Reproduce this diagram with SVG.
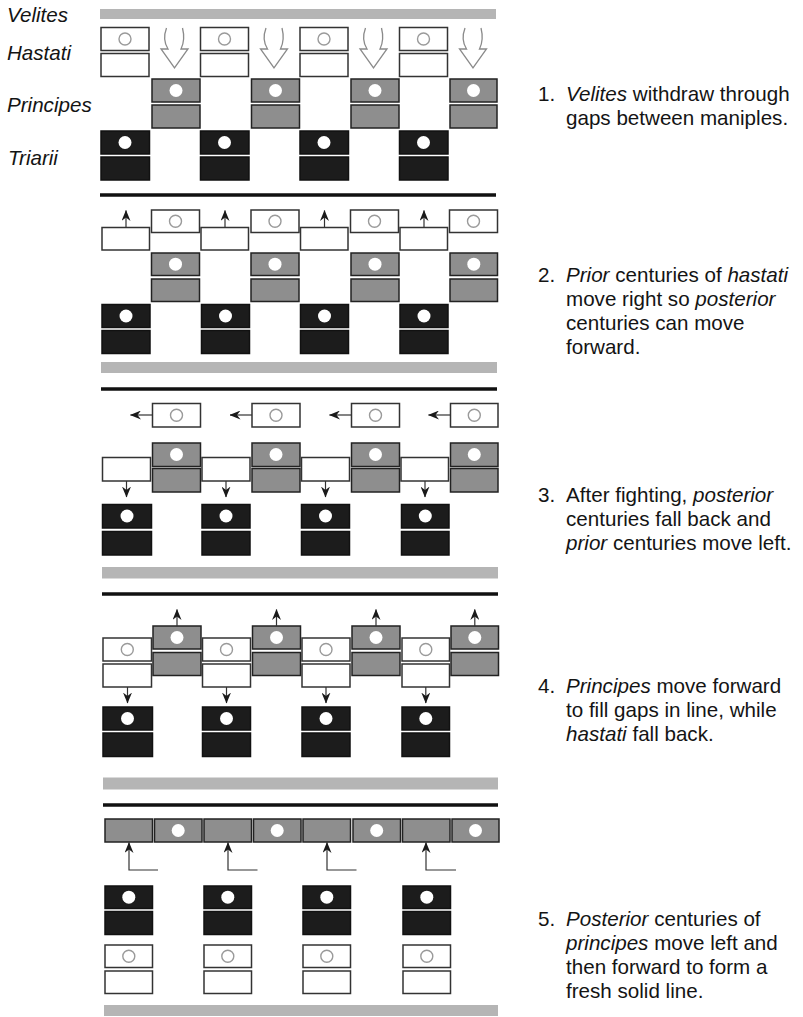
<svg xmlns="http://www.w3.org/2000/svg" width="803" height="1017" viewBox="0 0 803 1017">
<style>
.h{fill:#fff;stroke:#333;stroke-width:1.5}
.p{fill:#8e8e8e;stroke:#222;stroke-width:1.5}
.t{fill:#1c1c1c;stroke:#111;stroke-width:1.5}
.hc{fill:none;stroke:#9a9a9a;stroke-width:1.4}
.wc{fill:#fff;stroke:none}
.bar{fill:#b5b5b5}
.blk{stroke:#111;stroke-width:3.5}
.mv{stroke:#333;stroke-width:1.2;fill:none;marker-end:url(#ah)}
.big{fill:#fff;stroke:#8a8a8a;stroke-width:1.3}
text{font-family:"Liberation Sans",Arial,Helvetica,sans-serif;font-size:20.6px;fill:#141414}
.lab{font-style:italic}
.it{font-style:italic}
</style>
<defs>
<marker id="ah" markerUnits="userSpaceOnUse" markerWidth="11" markerHeight="9" refX="10.5" refY="4.5" orient="auto" viewBox="0 0 11 9">
<path d="M0,0 L11,4.5 L0,9 L3.5,4.5 Z" fill="#1a1a1a"/>
</marker>
<path id="bigArrow" d="M-8,0 C-11,8 -11,14 -6.5,21 L-13.5,21 L0,40 L13.5,21 L6.5,21 C10,14 10,8 8,0"/>
</defs>

<g id="labels">
<text class="lab" x="7" y="22">Velites</text>
<text class="lab" x="7" y="60">Hastati</text>
<text class="lab" x="7" y="112">Principes</text>
<text class="lab" x="8" y="165">Triarii</text>
</g>

<!-- Panel 1 -->
<g id="panel1">
<rect id="velites1" class="bar" x="100" y="9" width="396" height="10"/>
<g id="p1-hastati">
<g id="p1-h1"><rect class="h" x="101" y="27.5" width="48" height="23"/><circle class="hc" cx="125" cy="39" r="6"/><rect class="h" x="101" y="53.5" width="48" height="23"/></g>
<g id="p1-h2"><rect class="h" x="200.5" y="27.5" width="48" height="23"/><circle class="hc" cx="224.5" cy="39" r="6"/><rect class="h" x="200.5" y="53.5" width="48" height="23"/></g>
<g id="p1-h3"><rect class="h" x="300" y="27.5" width="48" height="23"/><circle class="hc" cx="324" cy="39" r="6"/><rect class="h" x="300" y="53.5" width="48" height="23"/></g>
<g id="p1-h4"><rect class="h" x="399.5" y="27.5" width="48" height="23"/><circle class="hc" cx="423.5" cy="39" r="6"/><rect class="h" x="399.5" y="53.5" width="48" height="23"/></g>
</g>
<g id="p1-principes">
<g id="p1-p1"><rect class="p" x="152" y="79" width="48" height="23"/><circle class="wc" cx="176" cy="90.5" r="6.5"/><rect class="p" x="152" y="105" width="48" height="23"/></g>
<g id="p1-p2"><rect class="p" x="251.5" y="79" width="48" height="23"/><circle class="wc" cx="275.5" cy="90.5" r="6.5"/><rect class="p" x="251.5" y="105" width="48" height="23"/></g>
<g id="p1-p3"><rect class="p" x="351" y="79" width="48" height="23"/><circle class="wc" cx="375" cy="90.5" r="6.5"/><rect class="p" x="351" y="105" width="48" height="23"/></g>
<g id="p1-p4"><rect class="p" x="450" y="79" width="47" height="23"/><circle class="wc" cx="473.5" cy="90.5" r="6.5"/><rect class="p" x="450" y="105" width="47" height="23"/></g>
</g>
<g id="p1-triarii">
<g id="p1-t1"><rect class="t" x="101" y="131" width="48.5" height="23"/><circle class="wc" cx="125" cy="142.5" r="6.5"/><rect class="t" x="101" y="157" width="48.5" height="23"/></g>
<g id="p1-t2"><rect class="t" x="200.5" y="131" width="48.5" height="23"/><circle class="wc" cx="224.5" cy="142.5" r="6.5"/><rect class="t" x="200.5" y="157" width="48.5" height="23"/></g>
<g id="p1-t3"><rect class="t" x="300" y="131" width="48.5" height="23"/><circle class="wc" cx="324" cy="142.5" r="6.5"/><rect class="t" x="300" y="157" width="48.5" height="23"/></g>
<g id="p1-t4"><rect class="t" x="399.5" y="131" width="48.5" height="23"/><circle class="wc" cx="423.5" cy="142.5" r="6.5"/><rect class="t" x="399.5" y="157" width="48.5" height="23"/></g>
</g>
<g id="p1-arrows">
<use href="#bigArrow" class="big" transform="translate(174.5,28)"/>
<use href="#bigArrow" class="big" transform="translate(274,28)"/>
<use href="#bigArrow" class="big" transform="translate(373.5,28)"/>
<use href="#bigArrow" class="big" transform="translate(473,28)"/>
</g>
<line class="blk" x1="100" y1="195" x2="496" y2="195"/>
<text x="538" y="101">1.</text>
<text x="566" y="101"><tspan class="it">Velites</tspan> withdraw through</text>
<text x="566" y="125">gaps between maniples.</text>
</g>

<!-- Panel 2 -->
<g id="panel2">
<g id="p2-prior">
<g id="p2-pr1"><rect class="h" x="151.5" y="210" width="48" height="22.5"/><circle class="hc" cx="175.5" cy="221.2" r="6"/></g>
<g id="p2-pr2"><rect class="h" x="251" y="210" width="48" height="22.5"/><circle class="hc" cx="275" cy="221.2" r="6"/></g>
<g id="p2-pr3"><rect class="h" x="350.5" y="210" width="48" height="22.5"/><circle class="hc" cx="374.5" cy="221.2" r="6"/></g>
<g id="p2-pr4"><rect class="h" x="449.5" y="210" width="48" height="22.5"/><circle class="hc" cx="473.5" cy="221.2" r="6"/></g>
</g>
<g id="p2-posterior">
<g id="p2-po1"><rect class="h" x="102" y="227.5" width="47.5" height="22.5"/></g>
<g id="p2-po2"><rect class="h" x="201" y="227.5" width="47.5" height="22.5"/></g>
<g id="p2-po3"><rect class="h" x="300.5" y="227.5" width="47.5" height="22.5"/></g>
<g id="p2-po4"><rect class="h" x="400" y="227.5" width="47.5" height="22.5"/></g>
</g>
<g id="p2-principes">
<g id="p2-p1"><rect class="p" x="151.5" y="253" width="48" height="22.5"/><circle class="wc" cx="175.5" cy="264.2" r="6.5"/><rect class="p" x="151.5" y="279" width="48" height="22.5"/></g>
<g id="p2-p2"><rect class="p" x="251" y="253" width="48" height="22.5"/><circle class="wc" cx="275" cy="264.2" r="6.5"/><rect class="p" x="251" y="279" width="48" height="22.5"/></g>
<g id="p2-p3"><rect class="p" x="351" y="253" width="48" height="22.5"/><circle class="wc" cx="375" cy="264.2" r="6.5"/><rect class="p" x="351" y="279" width="48" height="22.5"/></g>
<g id="p2-p4"><rect class="p" x="450" y="253" width="47.5" height="22.5"/><circle class="wc" cx="473.8" cy="264.2" r="6.5"/><rect class="p" x="450" y="279" width="47.5" height="22.5"/></g>
</g>
<g id="p2-triarii">
<g id="p2-t1"><rect class="t" x="102" y="304.5" width="48" height="23"/><circle class="wc" cx="126" cy="316" r="6.5"/><rect class="t" x="102" y="330.5" width="48" height="23"/></g>
<g id="p2-t2"><rect class="t" x="201.5" y="304.5" width="48" height="23"/><circle class="wc" cx="225.5" cy="316" r="6.5"/><rect class="t" x="201.5" y="330.5" width="48" height="23"/></g>
<g id="p2-t3"><rect class="t" x="300.5" y="304.5" width="48" height="23"/><circle class="wc" cx="324.5" cy="316" r="6.5"/><rect class="t" x="300.5" y="330.5" width="48" height="23"/></g>
<g id="p2-t4"><rect class="t" x="400" y="304.5" width="48" height="23"/><circle class="wc" cx="424" cy="316" r="6.5"/><rect class="t" x="400" y="330.5" width="48" height="23"/></g>
</g>
<rect class="bar" x="101" y="362" width="396" height="11"/>
<line class="blk" x1="101" y1="389" x2="497" y2="389"/>
<text x="538" y="282">2.</text>
<text x="566" y="282"><tspan class="it">Prior</tspan> centuries of <tspan class="it">hastati</tspan></text>
<text x="566" y="306">move right so <tspan class="it">posterior</tspan></text>
<text x="566" y="330">centuries can move</text>
<text x="566" y="354">forward.</text>
</g>

<!-- Panel 3 -->
<g id="panel3">
<g id="p3-prior">
<g id="p3-pr1"><rect class="h" x="152.5" y="403.5" width="48" height="23.5"/><circle class="hc" cx="176.5" cy="415.2" r="6"/></g>
<g id="p3-pr2"><rect class="h" x="252" y="403.5" width="48" height="23.5"/><circle class="hc" cx="276" cy="415.2" r="6"/></g>
<g id="p3-pr3"><rect class="h" x="351.5" y="403.5" width="48" height="23.5"/><circle class="hc" cx="375.5" cy="415.2" r="6"/></g>
<g id="p3-pr4"><rect class="h" x="450.5" y="403.5" width="47.5" height="23.5"/><circle class="hc" cx="474.3" cy="415.2" r="6"/></g>
</g>
<g id="p3-principes">
<g id="p3-p1"><rect class="p" x="152.5" y="443" width="48" height="23.5"/><circle class="wc" cx="176.5" cy="454.5" r="6.5"/><rect class="p" x="152.5" y="468.5" width="48" height="23.5"/></g>
<g id="p3-p2"><rect class="p" x="252" y="443" width="48" height="23.5"/><circle class="wc" cx="276" cy="454.5" r="6.5"/><rect class="p" x="252" y="468.5" width="48" height="23.5"/></g>
<g id="p3-p3"><rect class="p" x="351.5" y="443" width="48" height="23.5"/><circle class="wc" cx="375.5" cy="454.5" r="6.5"/><rect class="p" x="351.5" y="468.5" width="48" height="23.5"/></g>
<g id="p3-p4"><rect class="p" x="450.5" y="443" width="47.5" height="23.5"/><circle class="wc" cx="474.3" cy="454.5" r="6.5"/><rect class="p" x="450.5" y="468.5" width="47.5" height="23.5"/></g>
</g>
<g id="p3-posterior">
<g id="p3-po1"><rect class="h" x="102.5" y="457.5" width="48" height="23.5"/></g>
<g id="p3-po2"><rect class="h" x="202" y="457.5" width="48" height="23.5"/></g>
<g id="p3-po3"><rect class="h" x="301.5" y="457.5" width="48" height="23.5"/></g>
<g id="p3-po4"><rect class="h" x="401" y="457.5" width="47.5" height="23.5"/></g>
</g>
<g id="p3-triarii">
<g id="p3-t1"><rect class="t" x="102.5" y="504.5" width="49" height="23.5"/><circle class="wc" cx="127" cy="516" r="6.5"/><rect class="t" x="102.5" y="531.5" width="49" height="23.5"/></g>
<g id="p3-t2"><rect class="t" x="202" y="504.5" width="48" height="23.5"/><circle class="wc" cx="226" cy="516" r="6.5"/><rect class="t" x="202" y="531.5" width="48" height="23.5"/></g>
<g id="p3-t3"><rect class="t" x="301.5" y="504.5" width="48" height="23.5"/><circle class="wc" cx="325.5" cy="516" r="6.5"/><rect class="t" x="301.5" y="531.5" width="48" height="23.5"/></g>
<g id="p3-t4"><rect class="t" x="401.5" y="504.5" width="47.5" height="23.5"/><circle class="wc" cx="425.3" cy="516" r="6.5"/><rect class="t" x="401.5" y="531.5" width="47.5" height="23.5"/></g>
</g>
<rect class="bar" x="102" y="567" width="396" height="11.5"/>
<line class="blk" x1="102" y1="594" x2="498" y2="594"/>
<text x="538" y="502">3.</text>
<text x="566" y="502">After fighting, <tspan class="it">posterior</tspan></text>
<text x="566" y="526">centuries fall back and</text>
<text x="566" y="550"><tspan class="it">prior</tspan> centuries move left.</text>
</g>

<!-- Panel 4 -->
<g id="panel4">
<g id="p4-principes">
<g id="p4-p1"><rect class="p" x="153" y="626" width="48" height="23"/><circle class="wc" cx="177" cy="637.5" r="6.5"/><rect class="p" x="153" y="652.5" width="48" height="23"/></g>
<g id="p4-p2"><rect class="p" x="252.5" y="626" width="48" height="23"/><circle class="wc" cx="276.5" cy="637.5" r="6.5"/><rect class="p" x="252.5" y="652.5" width="48" height="23"/></g>
<g id="p4-p3"><rect class="p" x="352" y="626" width="48" height="23"/><circle class="wc" cx="376" cy="637.5" r="6.5"/><rect class="p" x="352" y="652.5" width="48" height="23"/></g>
<g id="p4-p4"><rect class="p" x="451" y="626" width="47.5" height="23"/><circle class="wc" cx="474.8" cy="637.5" r="6.5"/><rect class="p" x="451" y="652.5" width="47.5" height="23"/></g>
</g>
<g id="p4-hastati">
<g id="p4-h1"><rect class="h" x="103" y="638" width="48.5" height="23"/><circle class="hc" cx="127.3" cy="649.5" r="6"/><rect class="h" x="103" y="664" width="48.5" height="23"/></g>
<g id="p4-h2"><rect class="h" x="202.5" y="638" width="48" height="23"/><circle class="hc" cx="226.5" cy="649.5" r="6"/><rect class="h" x="202.5" y="664" width="48" height="23"/></g>
<g id="p4-h3"><rect class="h" x="302" y="638" width="48" height="23"/><circle class="hc" cx="326" cy="649.5" r="6"/><rect class="h" x="302" y="664" width="48" height="23"/></g>
<g id="p4-h4"><rect class="h" x="402" y="638" width="47.5" height="23"/><circle class="hc" cx="425.8" cy="649.5" r="6"/><rect class="h" x="402" y="664" width="47.5" height="23"/></g>
</g>
<g id="p4-triarii">
<g id="p4-t1"><rect class="t" x="103" y="707" width="49.5" height="23"/><circle class="wc" cx="127.5" cy="718.5" r="6.5"/><rect class="t" x="103" y="733" width="49.5" height="23.5"/></g>
<g id="p4-t2"><rect class="t" x="202.5" y="707" width="48" height="23"/><circle class="wc" cx="226.5" cy="718.5" r="6.5"/><rect class="t" x="202.5" y="733" width="48" height="23.5"/></g>
<g id="p4-t3"><rect class="t" x="302" y="707" width="48" height="23"/><circle class="wc" cx="326" cy="718.5" r="6.5"/><rect class="t" x="302" y="733" width="48" height="23.5"/></g>
<g id="p4-t4"><rect class="t" x="402" y="707" width="47.5" height="23"/><circle class="wc" cx="425.8" cy="718.5" r="6.5"/><rect class="t" x="402" y="733" width="47.5" height="23.5"/></g>
</g>
<rect class="bar" x="103" y="777.5" width="395" height="12"/>
<line class="blk" x1="103" y1="805" x2="498" y2="805"/>
<text x="538" y="693">4.</text>
<text x="566" y="693"><tspan class="it">Principes</tspan> move forward</text>
<text x="566" y="717">to fill gaps in line, while</text>
<text x="566" y="741"><tspan class="it">hastati</tspan> fall back.</text>
</g>

<!-- Panel 5 -->
<g id="panel5">
<g id="p5-line">
<rect class="p" x="105" y="819" width="47.5" height="23"/>
<g id="p5-l2"><rect class="p" x="154.5" y="819" width="47.5" height="23"/><circle class="wc" cx="178.2" cy="830.5" r="6.5"/></g>
<rect class="p" x="204" y="819" width="47.5" height="23"/>
<g id="p5-l4"><rect class="p" x="253.5" y="819" width="47.5" height="23"/><circle class="wc" cx="277.2" cy="830.5" r="6.5"/></g>
<rect class="p" x="303" y="819" width="47.5" height="23"/>
<g id="p5-l6"><rect class="p" x="353" y="819" width="47.5" height="23"/><circle class="wc" cx="376.7" cy="830.5" r="6.5"/></g>
<rect class="p" x="402.5" y="819" width="47.5" height="23"/>
<g id="p5-l8"><rect class="p" x="452" y="819" width="47" height="23"/><circle class="wc" cx="475.5" cy="830.5" r="6.5"/></g>
</g>
<g id="p5-triarii">
<g id="p5-t1"><rect class="t" x="105" y="886" width="47.5" height="22.5"/><circle class="wc" cx="128.8" cy="897.2" r="6.5"/><rect class="t" x="105" y="911.5" width="47.5" height="23"/></g>
<g id="p5-t2"><rect class="t" x="204" y="886" width="47.5" height="22.5"/><circle class="wc" cx="227.8" cy="897.2" r="6.5"/><rect class="t" x="204" y="911.5" width="47.5" height="23"/></g>
<g id="p5-t3"><rect class="t" x="303" y="886" width="47.5" height="22.5"/><circle class="wc" cx="326.8" cy="897.2" r="6.5"/><rect class="t" x="303" y="911.5" width="47.5" height="23"/></g>
<g id="p5-t4"><rect class="t" x="403" y="886" width="47.5" height="22.5"/><circle class="wc" cx="426.8" cy="897.2" r="6.5"/><rect class="t" x="403" y="911.5" width="47.5" height="23"/></g>
</g>
<g id="p5-hastati">
<g id="p5-h1"><rect class="h" x="105" y="945" width="47.5" height="22.5"/><circle class="hc" cx="128.8" cy="956.2" r="6"/><rect class="h" x="105" y="971" width="47.5" height="22.5"/></g>
<g id="p5-h2"><rect class="h" x="204" y="945" width="47.5" height="22.5"/><circle class="hc" cx="227.8" cy="956.2" r="6"/><rect class="h" x="204" y="971" width="47.5" height="22.5"/></g>
<g id="p5-h3"><rect class="h" x="303" y="945" width="47.5" height="22.5"/><circle class="hc" cx="326.8" cy="956.2" r="6"/><rect class="h" x="303" y="971" width="47.5" height="22.5"/></g>
<g id="p5-h4"><rect class="h" x="403" y="945" width="47.5" height="22.5"/><circle class="hc" cx="426.8" cy="956.2" r="6"/><rect class="h" x="403" y="971" width="47.5" height="22.5"/></g>
</g>
<rect class="bar" x="104" y="1005" width="394" height="11"/>
<text x="538" y="926">5.</text>
<text x="566" y="926"><tspan class="it">Posterior</tspan> centuries of</text>
<text x="566" y="950"><tspan class="it">principes</tspan> move left and</text>
<text x="566" y="974">then forward to form a</text>
<text x="566" y="998">fresh solid line.</text>
</g>

<g id="connectors">
<line class="mv" x1="126" y1="227.5" x2="126" y2="210.5"/>
<line class="mv" x1="225" y1="227.5" x2="225" y2="210.5"/>
<line class="mv" x1="324.5" y1="227.5" x2="324.5" y2="210.5"/>
<line class="mv" x1="424" y1="227.5" x2="424" y2="210.5"/>
<line class="mv" x1="152.5" y1="415" x2="130.5" y2="415"/>
<line class="mv" x1="252" y1="415" x2="230" y2="415"/>
<line class="mv" x1="351.5" y1="415" x2="329.5" y2="415"/>
<line class="mv" x1="450.5" y1="415" x2="428.5" y2="415"/>
<line class="mv" x1="126.5" y1="481" x2="126.5" y2="497"/>
<line class="mv" x1="226" y1="481" x2="226" y2="497"/>
<line class="mv" x1="325.5" y1="481" x2="325.5" y2="497"/>
<line class="mv" x1="425" y1="481" x2="425" y2="497"/>
<line class="mv" x1="177" y1="626" x2="177" y2="609.5"/>
<line class="mv" x1="276.5" y1="626" x2="276.5" y2="609.5"/>
<line class="mv" x1="376" y1="626" x2="376" y2="609.5"/>
<line class="mv" x1="474.8" y1="626" x2="474.8" y2="609.5"/>
<line class="mv" x1="127.5" y1="687" x2="127.5" y2="703"/>
<line class="mv" x1="226.5" y1="687" x2="226.5" y2="703"/>
<line class="mv" x1="326" y1="687" x2="326" y2="703"/>
<line class="mv" x1="425.8" y1="687" x2="425.8" y2="703"/>
<polyline class="mv" points="158,870 129,870 129,842.5"/>
<polyline class="mv" points="257.5,870 228,870 228,842.5"/>
<polyline class="mv" points="356.5,870 327,870 327,842.5"/>
<polyline class="mv" points="456,870 426,870 426,842.5"/>
</g>
</svg>
